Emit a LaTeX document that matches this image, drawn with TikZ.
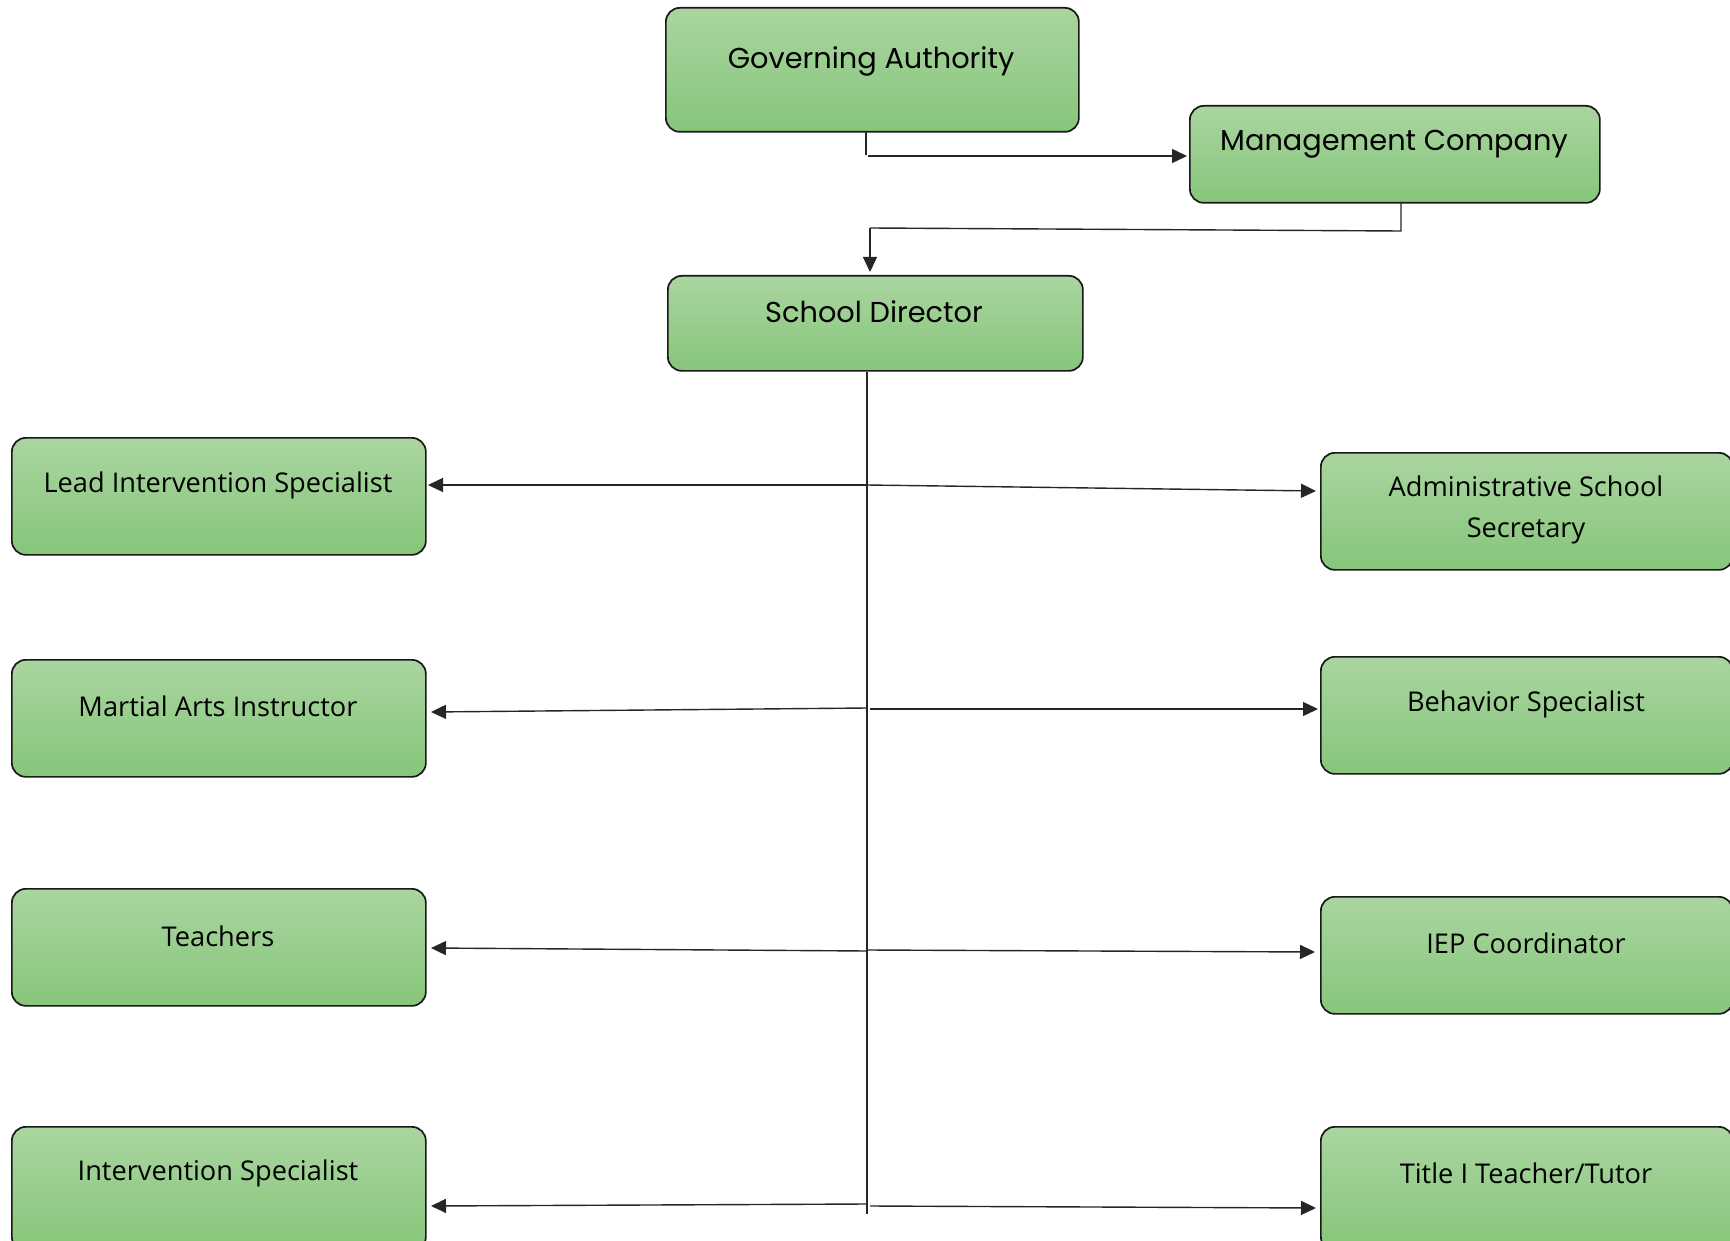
\documentclass[tikz,border=0pt]{standalone}
\usepackage{fontspec}
\setmainfont{Open Sans}
\newfontfamily\gothic{Poppins}
\usetikzlibrary{arrows.meta}
\definecolor{gtop}{RGB}{170,213,160}
\definecolor{gbot}{RGB}{134,198,122}
\definecolor{edge}{RGB}{25,25,25}
\tikzset{
  box/.style={draw=edge, line width=0.85pt, rounded corners=7pt, top color=gtop, bottom color=gbot, minimum width=#1, inner sep=0pt},
  txt/.style={font=\fontsize{13.6}{17}\selectfont, align=center, inner sep=0pt},
  gtxt/.style={font=\gothic\fontsize{14.4}{17}\selectfont, align=center, inner sep=0pt},
  conn/.style={line width=0.7pt, draw=black!85},
  arr/.style={conn, -{Triangle[length=7.5pt,width=7pt]}}
}
\begin{document}
\begin{tikzpicture}[x=0.5pt,y=-0.5pt]
\useasboundingbox (0,0) rectangle (1730,1241);
\clip (0,0) rectangle (1730,1241);
% top boxes
\node[box=206.5pt, minimum height=62pt, anchor=north west] (ga) at (665,7) {};
\node[gtxt] (gat) at (871,61) {Governing Authority};
\node[box=205pt, minimum height=48.5pt, anchor=north west] (mc) at (1189,105) {};
\node[gtxt] (mct) at (1394,144) {Management Company};
\node[box=207.5pt, minimum height=47.5pt, anchor=north west] (sd) at (667,275) {};
\node[gtxt] (sdt) at (874,312) {School Director};
% left boxes
\node[box=207pt, minimum height=58.5pt, anchor=north west] (lis) at (11,437) {};
\node[txt] (list) at (218,485) {Lead Intervention Specialist};
\node[box=207pt, minimum height=58.5pt, anchor=north west] (mai) at (11,659) {};
\node[txt] (mait) at (218,706) {Martial Arts Instructor};
\node[box=207pt, minimum height=58.5pt, anchor=north west] (tea) at (11,888) {};
\node[txt] (teat) at (218,936) {Teachers};
\node[box=207pt, minimum height=62pt, anchor=north west] (is) at (11,1126) {};
\node[txt] (ist) at (218,1173) {Intervention Specialist};
% right boxes
\node[box=206pt, minimum height=58.5pt, anchor=north west] (ass) at (1320,452) {};
\node[txt] (asst) at (1526,510) {Administrative School\\[3.5pt]Secretary};
\node[box=206pt, minimum height=58.5pt, anchor=north west] (bs) at (1320,656) {};
\node[txt] (bst) at (1526,704) {Behavior Specialist};
\node[box=206pt, minimum height=58.5pt, anchor=north west] (iep) at (1320,896) {};
\node[txt] (iept) at (1526,943) {IEP Coordinator};
\node[box=206pt, minimum height=62pt, anchor=north west] (tt) at (1320,1126) {};
\node[txt] (ttt) at (1526,1173) {Title I Teacher/Tutor};
% top connectors
\coordinate (g1) at (866,131);
\coordinate (g2) at (866,155);
\coordinate (g3) at (868,156);
\draw[conn] (g1) -- (g2);
\draw[arr] (g3) -- ([xshift=-1pt]mc.west |- g3);
\coordinate (m1) at (1401,202);
\coordinate (m2) at (1401,231);
\coordinate (m3) at (870,228);
\draw[conn] (m1) -- (m2) -- (m3);
\draw[arr] (m3) -- ([yshift=1.5pt]sd.north -| 870,0);
% trunk
\coordinate (t0) at (867,370);
\coordinate (t1) at (867,1214);
\draw[conn] (sd.south -| t0) -- (t1);
% branches
\coordinate (b1) at (867,485);
\draw[arr] (b1) -- (428,485);
\draw[arr] (b1) -- (1316,491);
\coordinate (b2) at (867,708);
\coordinate (b2r) at (870,709);
\draw[arr] (b2) -- (431,712);
\draw[arr] (b2r) -- (1318,709);
\coordinate (b3) at (867,951);
\coordinate (b3r) at (867,950);
\draw[arr] (b3) -- (431,948);
\draw[arr] (b3r) -- (1315,952);
\coordinate (b4) at (867,1204);
\coordinate (b4r) at (870,1206);
\draw[arr] (b4) -- (431,1206);
\draw[arr] (b4r) -- (1316,1208);
\end{tikzpicture}
\end{document}
